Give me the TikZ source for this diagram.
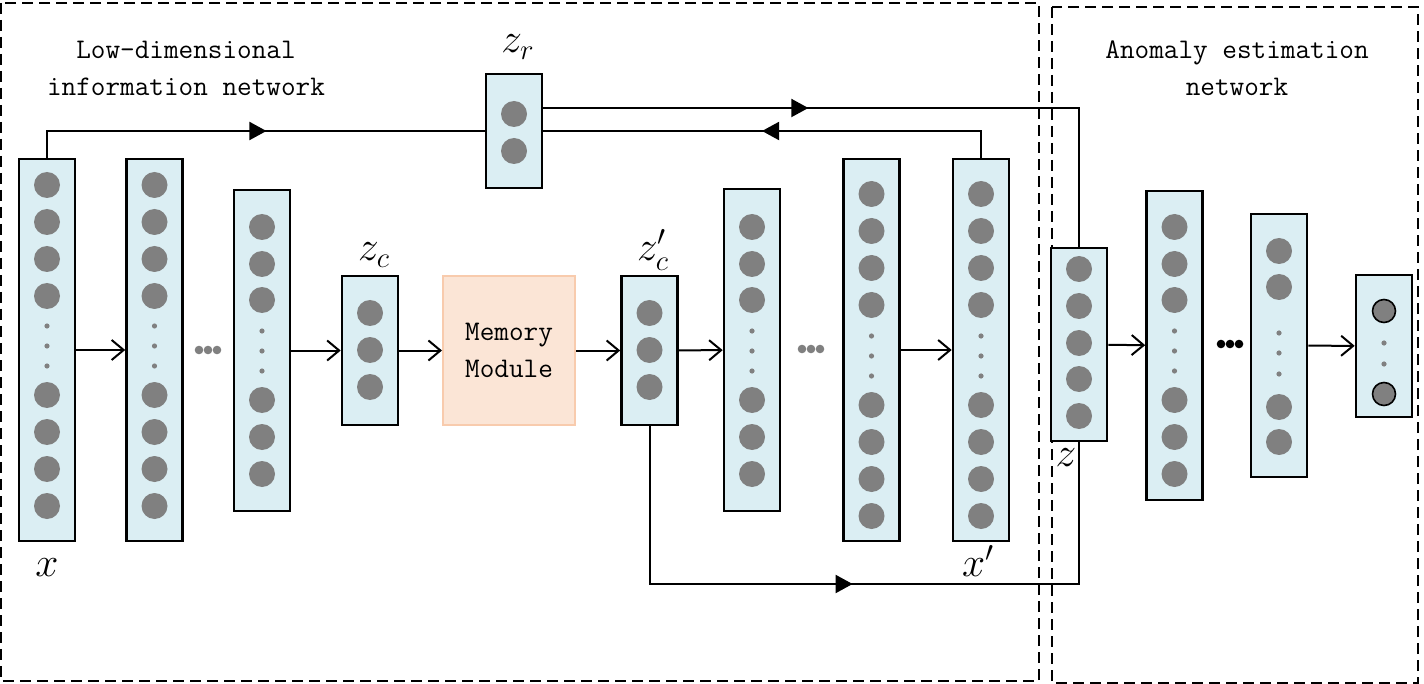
\documentclass[tikz,border=0pt]{standalone}
\usepackage{amsmath}
\usetikzlibrary{arrows.meta,decorations.markings}

\definecolor{layerblue}{RGB}{219,238,243}
\definecolor{unitgray}{RGB}{128,128,128}
\definecolor{memfill}{RGB}{251,229,214}
\definecolor{memdraw}{RGB}{248,203,173}

\tikzset{
  layer/.style={draw=black,line width=1.3pt,fill=layerblue,inner sep=0pt,minimum width=28pt},
  neuron/.style={circle,fill=unitgray,inner sep=0pt,minimum size=13pt},
  outneuron/.style={circle,draw=black,line width=0.8pt,fill=unitgray,inner sep=0pt,minimum size=11.5pt},
  vdot/.style={circle,fill=unitgray,inner sep=0pt,minimum size=2.6pt},
  hdot/.style={circle,fill=#1,inner sep=0pt,minimum size=4.3pt},
  conn/.style={line width=1pt,-{Straight Barb[length=6pt,width=10pt]}},
  link/.style={line width=1pt},
  netframe/.style={line width=1.45pt,dash pattern=on 5.5pt off 3pt},
  lbl/.style={font=\fontsize{21}{24}\selectfont,inner sep=0pt},
  txt/.style={font=\ttfamily\fontsize{14.2}{18.5}\selectfont,align=center},
  midarrow/.style={postaction={decorate},decoration={markings,
      mark=at position #1 with {\arrow{Triangle[length=8.5pt,width=9pt]}}}}
}

\begin{document}
\begin{tikzpicture}[x=0.5pt,y=-0.5pt]
                      \useasboundingbox (0,0) rectangle (1424,684);
                      \draw[netframe] (1,3) rectangle (1039,681);
                      \draw[netframe] (1052,7) rectangle (1418,683);
                      \node[txt](lowtxt)at(186,68){Low-dimensional\\information network};
                      \node[txt](anomtxt)at(1237,68){Anomaly estimation\\network};

                      \foreach \n/\cx/\cy/\h in {x/47/350/191,h1/154.5/350/191,h2/262/350.5/160.5,
                          zc/370/350.5/74.5,zcp/649.5/350.5/74.5,d1/752/350/161,d2/871.5/350/191,
                          xp/981/350/191,zr/514/131/57,z/1079/344.5/96.5,a1/1174.5/345.5/154.5,
                          a2/1279/345.5/131.5,out/1384/346/71}
                          \node[layer,minimum height=\h pt](\n)at(\cx,\cy){};
                      \node[txt,draw=memdraw,fill=memfill,line width=1pt,minimum width=66pt,
                          minimum height=74.5pt](mem)at(509,350.5){Memory\\Module};

                      \foreach \n/\cx in {x/47,h1/154.5}{
                          \foreach \y [count=\i] in {185,222,259,296,395,432,469,506}
                              \node[neuron](\n-\i)at(\cx,\y){};
                          \foreach \y [count=\i] in {326,346,366}
                              \node[vdot](\n-d\i)at(\cx,\y){};}
                      \foreach \n/\cx in {d2/871.5,xp/981}{
                          \foreach \y [count=\i] in {194,231,268,305,405,442,479,516}
                              \node[neuron](\n-\i)at(\cx,\y){};
                          \foreach \y [count=\i] in {336,356,376}
                              \node[vdot](\n-d\i)at(\cx,\y){};}
                      \foreach \n/\cx in {h2/262,d1/752,a1/1174.5}{
                          \foreach \y [count=\i] in {227,264,300,400,437,474}
                              \node[neuron](\n-\i)at(\cx,\y){};
                          \foreach \y [count=\i] in {331,351,371}
                              \node[vdot](\n-d\i)at(\cx,\y){};}
                      \foreach \n/\cx in {zc/370,zcp/649.5}
                          \foreach \y [count=\i] in {313,350,387}
                              \node[neuron](\n-\i)at(\cx,\y){};
                      \foreach \y [count=\i] in {114,151} \node[neuron](zr-\i)at(514,\y){};
                      \foreach \y [count=\i] in {269,306,343,379,416} \node[neuron](z-\i)at(1079,\y){};
                      \foreach \y [count=\i] in {251,287,407,442} \node[neuron](a2-\i)at(1279,\y){};
                      \foreach \y [count=\i] in {333,353,374} \node[vdot](a2-d\i)at(1279,\y){};
                      \foreach \y [count=\i] in {311,394} \node[outneuron](out-\i)at(1384,\y){};
                      \foreach \y [count=\i] in {343,364} \node[vdot](out-d\i)at(1384,\y){};

                      \foreach \x [count=\i] in {199,208,217} \node[hdot=unitgray](gapa-\i)at(\x,350){};
                      \foreach \x [count=\i] in {802,811,820} \node[hdot=unitgray](gapb-\i)at(\x,349){};
                      \foreach \x [count=\i] in {1221,1230,1239} \node[hdot=black](gapc-\i)at(\x,344){};

                      \node[lbl](xlbl)at(47,568){$x$};
                      \node[lbl](xplbl)at(978,561){$x'$};
                      \node[lbl](zclbl)at(374,255){$z_c$};
                      \node[lbl](zcplbl)at(653,250){$z_c'$};
                      \node[lbl](zrlbl)at(518,47){$z_r$};
                      \node[lbl](zlbl)at(1066,458){$z$};

                      \draw[conn] (x) -- (h1);
                      \draw[conn] (h2) -- (zc);
                      \draw[conn] (zc) -- (mem);
                      \draw[conn] (mem) -- (zcp);
                      \draw[conn] (zcp) -- (d1);
                      \draw[conn] (d2) -- (xp);
                      \draw[conn] (z) -- (a1);
                      \draw[conn] (a2) -- (out);

                      \coordinate (zbot) at (1079,584);
                      \draw[link,midarrow=0.53] (x.north) |- (zr.west);
                      \draw[link,midarrow=0.393] ([yshift=11.5pt]zr.east) -| (z.north);
                      \draw[link,midarrow=0.529] (xp.north) |- (zr.east);
                      \draw[link,midarrow=0.495] (zcp.south) |- (zbot) -- (z.south);
                  \end{tikzpicture}
\end{document}
